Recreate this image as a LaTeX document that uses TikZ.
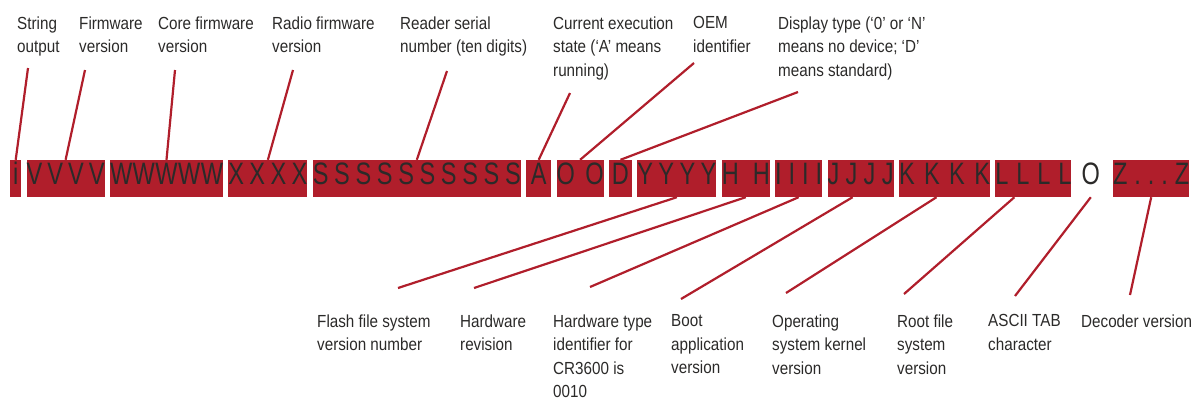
\documentclass[tikz,border=0pt]{standalone}
\usepackage{fontspec}
\setmainfont{Liberation Sans}
\newfontfamily\lblfont[FakeStretch=0.87]{Liberation Sans}
\newfontfamily\boxfont[FakeStretch=0.76]{Liberation Sans}
\usetikzlibrary{positioning}
\definecolor{codered}{HTML}{B01E2B}
\definecolor{ink}{HTML}{2B2A29}
\ExplSyntaxOn
\NewDocumentCommand\spreadout{m}{
  \tl_head:n{#1}
  \tl_set:Nx \l_tmpa_tl {\tl_tail:n{#1}}
  \tl_map_inline:Nn \l_tmpa_tl {\nobreak\hfill ##1}
}
\ExplSyntaxOff

\begin{document}
\begin{tikzpicture}[x=1pt, y=-1pt, node distance=5pt,
  b/.style={fill=codered, text=ink, inner sep=0pt, text width=#1, align=center,
    text height=24pt, text depth=13pt, font=\boxfont\fontsize{31}{31}\selectfont},
  l/.style={anchor=north west, align=left, inner sep=0pt, text=ink, font=\lblfont\fontsize{17.5}{23.6}\selectfont},
  ln/.style={draw=codered, line width=2.2pt}]
  \useasboundingbox (0,0) rectangle (1192,400);
  % the string
  \node[b=11pt, anchor=west] (bi) at (10,178.5) {i};
  \node[b=78pt, right=of bi] (bv) {\spreadout{VVVV}};
  \node[b=113pt, right=of bv] (bw) {\spreadout{WWWWW}};
  \node[b=79pt, right=of bw] (bx) {\spreadout{XXXX}};
  \node[b=208pt, right=of bx] (bs) {\spreadout{SSSSSSSSSS}};
  \node[b=25pt, right=of bs] (ba) {A};
  \node[b=47pt, right=of ba] (bo) {\spreadout{OO}};
  \node[b=23pt, right=of bo] (bd) {D};
  \node[b=79pt, right=of bd] (by) {\spreadout{YYYY}};
  \node[b=48pt, right=of by] (bh) {\spreadout{HH}};
  \node[b=47pt, right=of bh] (bii) {\spreadout{IIII}};
  \node[b=66pt, right=of bii] (bj) {\spreadout{JJJJ}};
  \node[b=91pt, right=of bj] (bk) {\spreadout{KKKK}};
  \node[b=76pt, right=of bk] (bl) {\spreadout{LLLL}};
  \node[b=28pt, fill=none, right=of bl] (btab) {O};
  \node[b=76pt, right=8pt of btab] (bz) {\spreadout{Z...Z}};
  % labels above
  \node[l] (ls) at (17,16.3) {String\\output};
  \node[l] (lf) at (79,16.3) {Firmware\\version};
  \node[l] (lc) at (158,16.3) {Core firmware\\version};
  \node[l] (lr) at (272,16.3) {Radio firmware\\version};
  \node[l] (lsn) at (400,16.3) {Reader serial\\number (ten digits)};
  \node[l] (lce) at (553,16.3) {Current execution\\state (‘A’ means\\running)};
  \node[l] (loem) at (693,16.3) {OEM\\identifier};
  \node[l] (ldt) at (778,16.3) {Display type (‘0’ or ‘N’\\means no device; ‘D’\\means standard)};
  % labels below
  \node[l] (lfl) at (317,314.3) {Flash file system\\version number};
  \node[l] (lhr) at (460,314.3) {Hardware\\revision};
  \node[l] (lht) at (553,314.3) {Hardware type\\identifier for\\CR3600 is\\0010};
  \node[l] (lbt) at (671,314.3) {Boot\\application\\version};
  \node[l] (los) at (772,314.3) {Operating\\system kernel\\version};
  \node[l] (lrf) at (897,314.3) {Root file\\system\\version};
  \node[l] (lat) at (988,314.3) {ASCII TAB\\character};
  \node[l] (ldv) at (1081,314.3) {Decoder version};
  % free ends of the leaders
  \coordinate (ts) at (28,68);
  \coordinate (tf) at (85,70);
  \coordinate (tc) at (175,70);
  \coordinate (tr) at (293,70);
  \coordinate (tsn) at (447,71);
  \coordinate (tce) at (570,93);
  \coordinate (toem) at (694,63);
  \coordinate (tdt) at (798,92);
  \coordinate (tfl) at (398,288);
  \coordinate (thr) at (474,288);
  \coordinate (tht) at (590,287);
  \coordinate (tbt) at (681,299);
  \coordinate (tos) at (786,293);
  \coordinate (trf) at (904,294);
  \coordinate (tat) at (1015,296);
  \coordinate (tdv) at (1130,295);
  \draw[ln] (ts) -- (bi.north);
  \draw[ln] (tf) -- (bv.north);
  \draw[ln] (tc) -- (bw.north);
  \draw[ln] (tr) -- (bx.north);
  \draw[ln] (tsn) -- (bs.north);
  \draw[ln] (tce) -- (ba.north);
  \draw[ln] (toem) -- (bo.north);
  \draw[ln] (tdt) -- (bd.north);
  \draw[ln] (by.south) -- (tfl);
  \draw[ln] (bh.south) -- (thr);
  \draw[ln] (bii.south) -- (tht);
  \draw[ln] ([xshift=-8pt]bj.south) -- (tbt);
  \draw[ln] ([xshift=-8pt]bk.south) -- (tos);
  \draw[ln] ([xshift=-19pt]bl.south) -- (trf);
  \draw[ln] (btab.south) -- (tat);
  \draw[ln] (bz.south) -- (tdv);
\end{tikzpicture}
\end{document}
